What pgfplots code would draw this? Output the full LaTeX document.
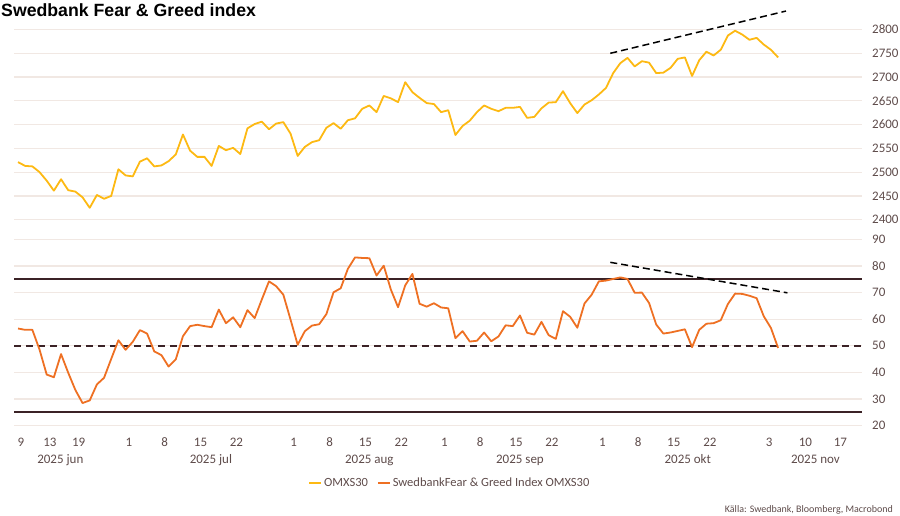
\documentclass[border=0pt]{standalone}
\usepackage{pgfplots}
\pgfplotsset{compat=1.18}
\usepackage{fontspec}
\setmainfont{Carlito}
\newfontfamily\titlefont{Liberation Sans}
\definecolor{omx}{HTML}{FDB913}
\definecolor{fg}{HTML}{EE7023}
\definecolor{thr}{HTML}{3B2226}
\definecolor{gridc}{HTML}{F1E8E3}
\definecolor{lbl}{HTML}{5E4B4A}

\pgfplotstableread{
k v
0 2521
1 2513
2 2512
3 2500
4 2482
5 2461
6 2485
7 2462
8 2459
9 2447
10 2425
11 2452
12 2444
13 2450
14 2506
15 2493
16 2491
17 2522
18 2529
19 2512
20 2514
21 2523
22 2537
23 2579
24 2545
25 2532
26 2532
27 2513
28 2555
29 2546
30 2551
31 2538
32 2592
33 2601
34 2606
35 2590
36 2602
37 2605
38 2581
39 2534
40 2553
41 2563
42 2567
43 2593
44 2603
45 2591
46 2609
47 2613
48 2633
49 2640
50 2626
51 2660
52 2655
53 2647
54 2689
55 2668
56 2656
57 2645
58 2643
59 2626
60 2630
61 2578
62 2597
63 2608
64 2626
65 2640
66 2633
67 2628
68 2635
69 2635
70 2637
71 2614
72 2616
73 2634
74 2646
75 2647
76 2670
77 2645
78 2624
79 2642
80 2651
81 2663
82 2677
83 2708
84 2729
85 2740
86 2722
87 2733
88 2730
89 2708
90 2709
91 2719
92 2738
93 2741
94 2702
95 2735
96 2753
97 2745
98 2757
99 2787
100 2797
101 2789
102 2778
103 2782
104 2768
105 2757
106 2741
}\omxdata

\pgfplotstableread{
k v
0 56.5
1 56.0
2 56.0
3 48.6
4 39.2
5 38.2
6 46.9
7 39.9
8 33.4
9 28.5
10 29.5
11 35.5
12 38.0
13 45.1
14 52.1
15 48.5
16 51.5
17 55.9
18 54.6
19 47.9
20 46.5
21 42.2
22 44.9
23 53.6
24 57.4
25 57.9
26 57.4
27 57.0
28 63.6
29 58.5
30 60.7
31 57.0
32 63.4
33 60.4
34 67.4
35 74.2
36 72.4
37 69.2
38 59.9
39 50.4
40 55.5
41 57.6
42 58.1
43 61.9
44 70.1
45 71.6
46 78.9
47 83.2
48 83.0
49 82.9
50 76.4
51 80.1
52 71.1
53 64.5
54 72.7
55 77.0
56 65.8
57 64.7
58 66.0
59 64.4
60 64.1
61 52.9
62 55.5
63 51.6
64 51.9
65 55.0
66 51.7
67 53.5
68 57.7
69 57.4
70 61.4
71 54.9
72 54.2
73 59.0
74 54.0
75 52.6
76 63.0
77 60.9
78 56.8
79 65.9
80 69.2
81 74.2
82 74.5
83 75.1
84 75.7
85 75.1
86 69.9
87 70.0
88 66.1
89 58.0
90 54.6
91 55.0
92 55.6
93 56.2
94 49.5
95 56.0
96 58.3
97 58.5
98 59.6
99 65.7
100 69.6
101 69.5
102 68.8
103 67.9
104 61.1
105 56.7
106 49.2
}\fgdata

\pgfplotsset{
  common/.style={
    scale only axis, width=848pt,
    xmin=-0.56, xmax=117.7,
    axis line style={draw=none},
    major tick length=0pt,
    ymajorgrids,
    grid style={color=gridc, line width=1.2pt},
    yticklabel pos=right,
    yticklabel style={anchor=west, inner sep=0pt, xshift=10pt, text=lbl, font=\fontsize{13}{15}\selectfont},
    /pgf/number format/assume math mode=true,
    /pgf/number format/1000 sep={},
    clip=false,
  }
}

\begin{document}
\begin{tikzpicture}
\useasboundingbox (0pt,0pt) rectangle (900pt,515pt);
\node[anchor=base west, inner sep=0pt, font=\titlefont\bfseries\fontsize{17.7}{20}\selectfont] at (1pt,498.3pt) {Swedbank Fear \& Greed index};

\begin{axis}[common, at={(14pt,295.3pt)}, anchor=south west, height=211.8pt,
  ymin=2400, ymax=2845, ytick={2400,2450,...,2800}, xtick=\empty]
\addplot[omx, line width=1.8pt, line join=round] table[x=k, y=v] {\omxdata};
\addplot[black, line width=1.5pt, dash pattern=on 7pt off 4pt] coordinates {(82.6,2749.6) (107.1,2838.4)};
\end{axis}

\begin{axis}[common, at={(14pt,89.3pt)}, anchor=south west, height=186.4pt,
  ymin=20, ymax=90, ytick={20,30,...,90},
  xtick={0.42,4.46,8.45,15.45,20.45,25.45,30.45,38.45,43.45,48.45,53.45,59.45,64.45,69.45,74.45,81.5,86.5,91.45,96.5,104.75,109.8,114.7},
  xticklabels={9,13,19,1,8,15,22,1,8,15,22,1,8,15,22,1,8,15,22,3,10,17},
  xticklabel style={anchor=base, inner sep=0pt, yshift=-21.1pt, text=lbl, font=\fontsize{13}{15}\selectfont},
  legend style={at={(0.514,-0.307)}, anchor=center, draw=none, fill=none, legend columns=2,
    font=\fontsize{12.5}{14}\selectfont, text=lbl,
    /tikz/every even column/.append style={column sep=7pt}},
  legend image code/.code={\draw[#1] (0pt,0pt) -- (12pt,0pt);},
]
\addlegendimage{omx, line width=1.8pt}
\addlegendentry{OMXS30}
\addplot[thr, line width=2pt, forget plot] coordinates {(-0.56,75) (117.7,75)};
\addplot[thr, line width=2pt, forget plot] coordinates {(-0.56,25) (117.7,25)};
\addplot[thr, line width=2pt, dash pattern=on 7pt off 5pt, forget plot] coordinates {(-0.56,50) (117.7,50)};
\addplot[fg, line width=1.8pt, line join=round] table[x=k, y=v] {\fgdata};
\addlegendentry{SwedbankFear \& Greed Index OMXS30}
\addplot[black, line width=1.5pt, dash pattern=on 7pt off 4pt, forget plot] coordinates {(82.6,81.35) (107.3,69.9)};
\node[anchor=base, yshift=-37.3pt, text=lbl, font=\fontsize{13}{15}\selectfont] at (axis cs:5.9,20) {2025 jun};
\node[anchor=base, yshift=-37.3pt, text=lbl, font=\fontsize{13}{15}\selectfont] at (axis cs:26.9,20) {2025 jul};
\node[anchor=base, yshift=-37.3pt, text=lbl, font=\fontsize{13}{15}\selectfont] at (axis cs:49,20) {2025 aug};
\node[anchor=base, yshift=-37.3pt, text=lbl, font=\fontsize{13}{15}\selectfont] at (axis cs:70,20) {2025 sep};
\node[anchor=base, yshift=-37.3pt, text=lbl, font=\fontsize{13}{15}\selectfont] at (axis cs:93.4,20) {2025 okt};
\node[anchor=base, yshift=-37.3pt, text=lbl, font=\fontsize{13}{15}\selectfont] at (axis cs:111.2,20) {2025 nov};
\end{axis}

\node[anchor=base east, inner sep=0pt, text=lbl, font=\fontsize{10}{12}\selectfont] at (893pt,3pt) {Källa: Swedbank, Bloomberg, Macrobond};
\end{tikzpicture}
\end{document}
